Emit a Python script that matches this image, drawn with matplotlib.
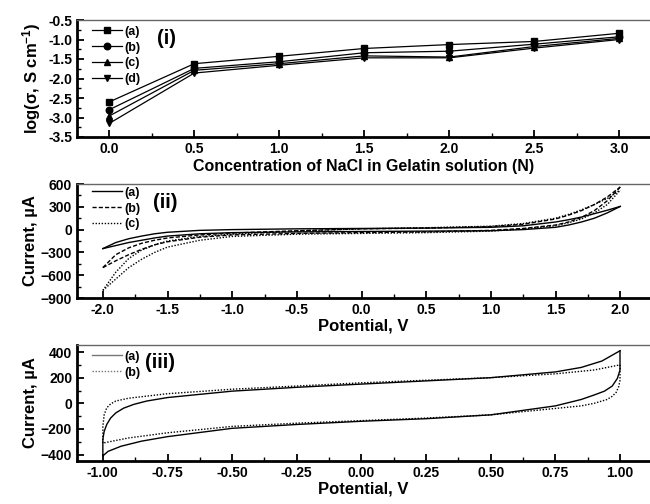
import numpy as np
import matplotlib
matplotlib.use("Agg")
import matplotlib.pyplot as plt
from matplotlib.ticker import MultipleLocator

plt.rcParams['font.family'] = ['Liberation Sans Narrow', 'Liberation Sans', 'DejaVu Sans']
plt.rcParams['font.weight'] = 'bold'
plt.rcParams['mathtext.fontset'] = 'custom'
plt.rcParams['mathtext.rm'] = 'Liberation Sans:bold'
plt.rcParams['mathtext.bf'] = 'Liberation Sans:bold'
plt.rcParams['mathtext.default'] = 'bf'

# ---- panel (i): conductivity vs NaCl concentration ----
conc = [0.0, 0.5, 1.0, 1.5, 2.0, 2.5, 3.0]
log_a = [-2.60, -1.62, -1.43, -1.23, -1.13, -1.05, -0.84]
log_b = [-2.80, -1.74, -1.57, -1.34, -1.30, -1.12, -0.93]
log_c = [-2.96, -1.79, -1.62, -1.42, -1.45, -1.18, -0.97]
log_d = [-3.15, -1.86, -1.66, -1.47, -1.47, -1.22, -1.00]
labels_i = ['(a)', '(b)', '(c)', '(d)']

# ---- panel (ii): CV, -2 .. 2 V ----
v2 = [-2.0, -1.9, -1.8, -1.7, -1.6, -1.5, -1.25, -1.0, -0.5, 0.0,
      0.5, 1.0, 1.25, 1.5, 1.6, 1.7, 1.8, 1.9, 2.0]
a2_up = [-250, -170, -120, -85, -55, -35, -10, 0, 10, 15, 20, 30, 50, 100, 130, 165, 210, 255, 305]
a2_dn = [-250, -210, -170, -140, -110, -85, -55, -40, -30, -25, -20, -15, 0, 30, 60, 100, 150, 220, 305]
b2_up = [-500, -330, -240, -180, -140, -110, -70, -45, -15, 10, 20, 40, 70, 140, 190, 250, 330, 430, 560]
b2_dn = [-500, -410, -330, -260, -200, -160, -100, -70, -50, -40, -30, -10, 15, 60, 100, 160, 250, 380, 560]
c2_up = [-800, -560, -380, -270, -200, -150, -90, -60, -20, 10, 25, 45, 80, 150, 200, 260, 330, 410, 520]
c2_dn = [-800, -650, -500, -390, -300, -230, -140, -90, -60, -50, -40, -20, 10, 50, 90, 140, 220, 330, 520]

# ---- panel (iii): CV, -1 .. 1 V ----
v3a_up = [-1.0, -1.0, -0.995, -0.985, -0.97, -0.95, -0.92, -0.88, -0.83, -0.75,
          -0.5, -0.25, 0.0, 0.25, 0.5, 0.75, 0.85, 0.93, 1.0]
a3_up = [-410, -280, -220, -165, -115, -75, -38, -8, 18, 45,
         95, 125, 150, 175, 200, 245, 280, 330, 410]
v3a_dn = [1.0, 1.0, 0.99, 0.97, 0.94, 0.9, 0.85, 0.75, 0.5, 0.25, 0.0,
          -0.25, -0.5, -0.75, -0.85, -0.93, -0.98, -1.0]
a3_dn = [410, 260, 195, 135, 95, 65, 30, -20, -90, -120, -140,
         -165, -195, -260, -295, -335, -375, -410]
v3b_up = [-1.0, -1.0, -0.995, -0.985, -0.97, -0.95, -0.9, -0.75, -0.5, -0.25,
          0.0, 0.25, 0.5, 0.75, 0.9, 1.0]
b3_up = [-310, -180, -90, -35, -5, 18, 40, 75, 110, 135,
         160, 180, 200, 230, 260, 300]
v3b_dn = [1.0, 1.0, 0.995, 0.985, 0.97, 0.95, 0.9, 0.85, 0.75, 0.5, 0.25, 0.0,
          -0.25, -0.5, -0.75, -0.9, -1.0]
b3_dn = [300, 180, 130, 85, 55, 30, 0, -20, -40, -90, -115, -135,
         -155, -180, -230, -270, -310]


def style(ax):
    for s in ['left', 'bottom']:
        ax.spines[s].set_linewidth(2)
    ax.spines['top'].set_linewidth(1)
    ax.spines['top'].set_color('#666666')
    ax.spines['right'].set_visible(False)
    ax.tick_params(which='both', direction='in', top=False, right=False, labelsize=10)
    ax.tick_params(which='major', length=5, width=1.3)
    ax.tick_params(which='minor', length=3, width=1.0)
    for t in ax.get_xticklabels() + ax.get_yticklabels():
        t.set_fontweight('bold')


def add_legend(ax, top, hl, col=None):
    leg = ax.legend(loc='upper left', frameon=False, fontsize=9, handlelength=hl,
                    handletextpad=0.2, labelspacing=0.3, borderaxespad=0.0,
                    borderpad=0.0, bbox_to_anchor=(0.026, top))
    if col:
        for h in leg.get_lines():
            h.set_color(col)
    return leg


fig = plt.figure(figsize=(6.5, 5.04), dpi=100)
W, H = 650.0, 504.0
L = 77 / W

# panel (i)
ax1 = fig.add_axes([L, 1 - 137 / H, 1 - L, 117 / H])
markers = ['s', 'o', '^', 'v']
for ys, m, lab in zip([log_a, log_b, log_c, log_d], markers, labels_i):
    ax1.plot(conc, ys, color='black', lw=0.9, marker=m, ms=4.7, label=lab)
ax1.set_xlim(-0.19, 3.18)
ax1.set_ylim(-3.5, -0.5)
ax1.xaxis.set_minor_locator(MultipleLocator(0.25))
ax1.yaxis.set_minor_locator(MultipleLocator(0.25))
ax1.set_xticks([0.0, 0.5, 1.0, 1.5, 2.0, 2.5, 3.0])
ax1.set_xticklabels(['0.0', '0.5', '1.0', '1.5', '2.0', '2.5', '3.0'])
ax1.set_yticks([-0.5, -1.0, -1.5, -2.0, -2.5, -3.0, -3.5])
ax1.set_yticklabels(['-0.5', '-1.0', '-1.5', '-2.0', '-2.5', '-3.0', '-3.5'])
ax1.set_xlabel('Concentration of NaCl in Gelatin solution (N)', fontsize=11.5,
               fontweight='bold', labelpad=2)
ax1.set_ylabel('log(σ, S cm$^{-1}$)', fontsize=12, fontweight='bold', labelpad=4)
add_legend(ax1, 0.95, 2.4)
ax1.text(0.14, 0.84, '(i)', transform=ax1.transAxes, fontsize=14.5,
         fontweight='bold', va='center')
style(ax1)

# panel (ii)
ax2 = fig.add_axes([L, 1 - 298 / H, 1 - L, 114 / H])
ax2.plot(v2, a2_up, color='black', lw=1.0, ls='-', label='(a)')
ax2.plot(v2, a2_dn, color='black', lw=1.0, ls='-')
ax2.plot(v2, b2_up, color='black', lw=1.0, ls=(0, (3, 1.5)), label='(b)')
ax2.plot(v2, b2_dn, color='black', lw=1.0, ls=(0, (3, 1.5)))
ax2.plot(v2, c2_up, color='black', lw=1.0, ls=(0, (1, 1.2)), label='(c)')
ax2.plot(v2, c2_dn, color='black', lw=1.0, ls=(0, (1, 1.2)))
ax2.set_xlim(-2.2, 2.23)
ax2.set_ylim(-900, 600)
ax2.set_xticks([-2.0, -1.5, -1.0, -0.5, 0.0, 0.5, 1.0, 1.5, 2.0])
ax2.set_xticklabels(['-2.0', '-1.5', '-1.0', '-0.5', '0.0', '0.5', '1.0', '1.5', '2.0'])
ax2.xaxis.set_minor_locator(MultipleLocator(0.25))
ax2.set_yticks([600, 300, 0, -300, -600, -900])
ax2.yaxis.set_minor_locator(MultipleLocator(150))
ax2.set_xlabel('Potential, V', fontsize=12, fontweight='bold', labelpad=1)
ax2.set_ylabel('Current, µA', fontsize=12, fontweight='bold', labelpad=2)
add_legend(ax2, 0.975, 2.4)
ax2.text(0.133, 0.84, '(ii)', transform=ax2.transAxes, fontsize=14.5,
         fontweight='bold', va='center')
style(ax2)

# panel (iii)
ax3 = fig.add_axes([L, 1 - 461 / H, 1 - L, 116 / H])
ax3.plot(v3a_up, a3_up, color='black', lw=1.0, ls='-', label='(a)')
ax3.plot(v3a_dn, a3_dn, color='black', lw=1.0, ls='-')
ax3.plot(v3b_up, b3_up, color='black', lw=1.0, ls=(0, (1, 1.2)), label='(b)')
ax3.plot(v3b_dn, b3_dn, color='black', lw=1.0, ls=(0, (1, 1.2)))
ax3.set_xlim(-1.1, 1.116)
ax3.set_ylim(-450, 455)
ax3.set_xticks([-1.0, -0.75, -0.5, -0.25, 0.0, 0.25, 0.5, 0.75, 1.0])
ax3.set_xticklabels(['-1.00', '-0.75', '-0.50', '-0.25', '0.00', '0.25', '0.50', '0.75', '1.00'])
ax3.xaxis.set_minor_locator(MultipleLocator(0.125))
ax3.set_yticks([400, 200, 0, -200, -400])
ax3.yaxis.set_minor_locator(MultipleLocator(100))
ax3.set_xlabel('Potential, V', fontsize=12, fontweight='bold', labelpad=1)
ax3.set_ylabel('Current, µA', fontsize=12, fontweight='bold', labelpad=2)
add_legend(ax3, 0.95, 2.4, col='#777777')
ax3.text(0.119, 0.845, '(iii)', transform=ax3.transAxes, fontsize=14.5,
         fontweight='bold', va='center')
style(ax3)

fig.savefig('out.png', dpi=100)
